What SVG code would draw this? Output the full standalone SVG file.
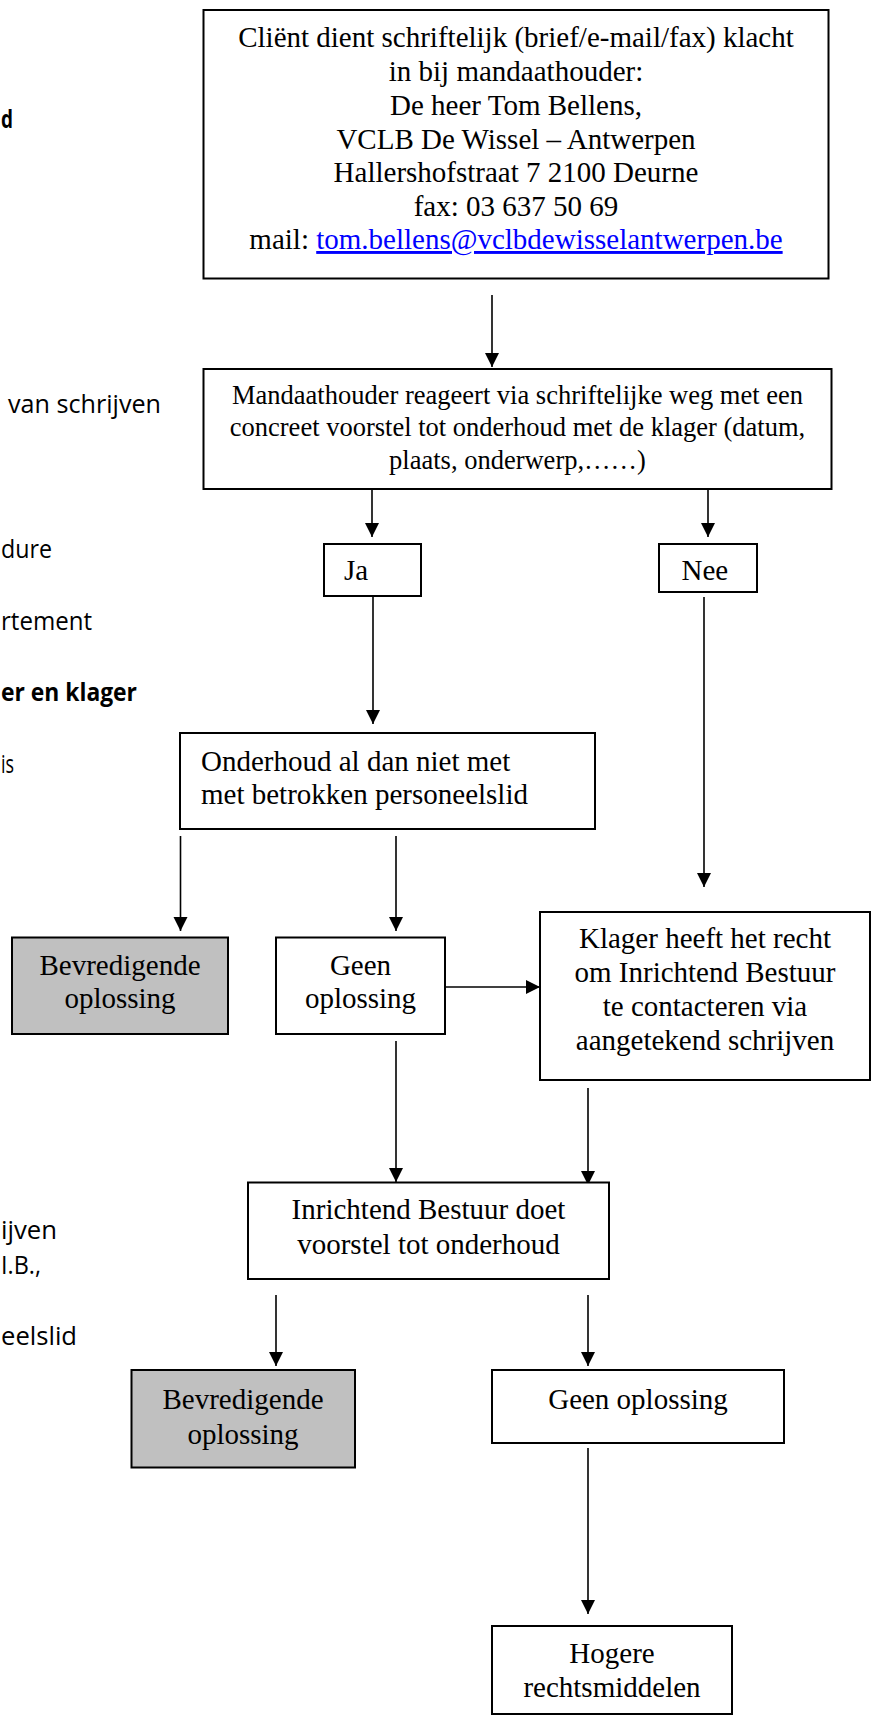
<svg xmlns="http://www.w3.org/2000/svg" width="876" height="1716" viewBox="0 0 876 1716">
<style>
.box{fill:#fff;stroke:#000;stroke-width:2}
.grey{fill:#c0c0c0;stroke:#000;stroke-width:2}
.t{font-family:"Liberation Serif","Times New Roman",serif;font-size:29px;fill:#000}
.tc{text-anchor:middle}
.side{font-family:"Open Sans","Liberation Sans",sans-serif;font-size:25px;fill:#000}
.b{font-weight:bold}
.c{stroke:#000;stroke-width:1.6;fill:none;marker-end:url(#ah)}
.link{fill:#0000ff;text-decoration:underline}
</style>
<defs>
<marker id="ah" markerUnits="userSpaceOnUse" markerWidth="14" markerHeight="16" viewBox="0 0 14 16" refX="14" refY="7" orient="auto">
<path d="M0,0 L14,7 L0,14 Z" fill="#000"/>
</marker>
</defs>

<g id="side-text">
<text class="side b" x="1" y="128" textLength="12" lengthAdjust="spacingAndGlyphs">d</text>
<text class="side" x="8" y="413" textLength="153" lengthAdjust="spacingAndGlyphs">van schrijven</text>
<text class="side" x="1" y="558" textLength="51" lengthAdjust="spacingAndGlyphs">dure</text>
<text class="side" x="1" y="630" textLength="91" lengthAdjust="spacingAndGlyphs">rtement</text>
<text class="side b" x="1" y="701" textLength="136" lengthAdjust="spacingAndGlyphs">er en klager</text>
<text class="side" x="1" y="773" textLength="13" lengthAdjust="spacingAndGlyphs">is</text>
<text class="side" x="1" y="1239" textLength="56" lengthAdjust="spacingAndGlyphs">ijven</text>
<text class="side" x="1" y="1274" textLength="40" lengthAdjust="spacingAndGlyphs">I.B.,</text>
<text class="side" x="1" y="1345" textLength="76" lengthAdjust="spacingAndGlyphs">eelslid</text>
</g>

<g id="connectors">
<line class="c" x1="492" y1="295" x2="492" y2="367"/>
<line class="c" x1="372" y1="442" x2="372" y2="537"/>
<line class="c" x1="708" y1="442" x2="708" y2="537"/>
<line class="c" x1="373" y1="580" x2="373" y2="724"/>
<line class="c" x1="704" y1="597" x2="704" y2="887"/>
<line class="c" x1="180.5" y1="836" x2="180.5" y2="931"/>
<line class="c" x1="396" y1="836" x2="396" y2="931"/>
<line class="c" x1="445" y1="987" x2="540" y2="987"/>
<line class="c" x1="396" y1="1041" x2="396" y2="1182"/>
<line class="c" x1="588" y1="1088" x2="588" y2="1185"/>
<line class="c" x1="276" y1="1295" x2="276" y2="1366"/>
<line class="c" x1="588" y1="1295" x2="588" y2="1366"/>
<line class="c" x1="588" y1="1448" x2="588" y2="1614"/>
</g>

<g id="n-klacht">
<rect class="box" x="203.5" y="10" width="625" height="268.5"/>
<text class="t tc" x="516" y="47">Cliënt dient schriftelijk (brief/e-mail/fax) klacht</text>
<text class="t tc" x="516" y="81">in bij mandaathouder:</text>
<text class="t tc" x="516" y="115">De heer Tom Bellens,</text>
<text class="t tc" x="516" y="148.5">VCLB De Wissel – Antwerpen</text>
<text class="t tc" x="516" y="182">Hallershofstraat 7 2100 Deurne</text>
<text class="t tc" x="516" y="215.5">fax: 03 637 50 69</text>
<text class="t tc" x="516" y="249">mail: <tspan class="link">tom.bellens@vclbdewisselantwerpen.be</tspan></text>
</g>

<g id="n-mandaat">
<rect class="box" x="203.5" y="369" width="628" height="120"/>
<text class="t tc" x="517.5" y="404" style="font-size:26.5px">Mandaathouder reageert via schriftelijke weg met een</text>
<text class="t tc" x="517.5" y="436" style="font-size:26.5px">concreet voorstel tot onderhoud met de klager (datum,</text>
<text class="t tc" x="517.5" y="469" style="font-size:26.5px">plaats, onderwerp,……)</text>
</g>

<g id="n-ja">
<rect class="box" x="324" y="544" width="97" height="52"/>
<text class="t" x="344" y="580">Ja</text>
</g>

<g id="n-nee">
<rect class="box" x="659" y="544" width="98" height="48"/>
<text class="t" x="681.5" y="580">Nee</text>
</g>

<g id="n-onderhoud">
<rect class="box" x="180" y="733" width="415" height="96"/>
<text class="t" x="201" y="771">Onderhoud al dan niet met</text>
<text class="t" x="201" y="804">met betrokken personeelslid</text>
</g>

<g id="n-bevredigend1">
<rect class="grey" x="12" y="937.5" width="216" height="96.5"/>
<text class="t tc" x="120" y="975">Bevredigende</text>
<text class="t tc" x="120" y="1008">oplossing</text>
</g>

<g id="n-geen1">
<rect class="box" x="276" y="937.5" width="169" height="96.5"/>
<text class="t tc" x="360.5" y="975">Geen</text>
<text class="t tc" x="360.5" y="1008">oplossing</text>
</g>

<g id="n-klager">
<rect class="box" x="540" y="912" width="330" height="168"/>
<text class="t tc" x="705" y="948">Klager heeft het recht</text>
<text class="t tc" x="705" y="982">om Inrichtend Bestuur</text>
<text class="t tc" x="705" y="1016">te contacteren via</text>
<text class="t tc" x="705" y="1050">aangetekend schrijven</text>
</g>

<g id="n-inrichtend">
<rect class="box" x="248" y="1182.5" width="361" height="96.5"/>
<text class="t tc" x="428.5" y="1219">Inrichtend Bestuur doet</text>
<text class="t tc" x="428.5" y="1254">voorstel tot onderhoud</text>
</g>

<g id="n-bevredigend2">
<rect class="grey" x="131.5" y="1370" width="223.5" height="97.5"/>
<text class="t tc" x="243" y="1408.5">Bevredigende</text>
<text class="t tc" x="243" y="1444">oplossing</text>
</g>

<g id="n-geen2">
<rect class="box" x="492" y="1370" width="292" height="73"/>
<text class="t tc" x="638" y="1408.5">Geen oplossing</text>
</g>

<g id="n-hogere">
<rect class="box" x="492" y="1626" width="240" height="88"/>
<text class="t tc" x="612" y="1663">Hogere</text>
<text class="t tc" x="612" y="1697">rechtsmiddelen</text>
</g>
</svg>
